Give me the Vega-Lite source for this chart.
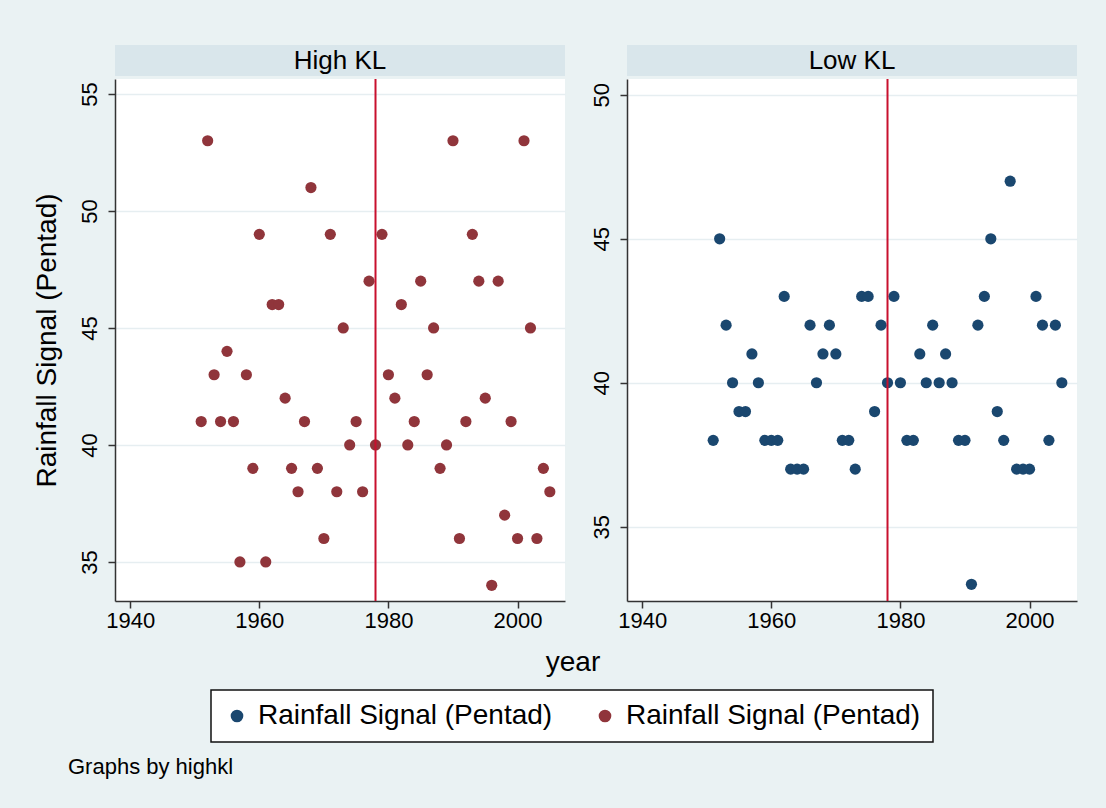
{
  "$schema": "https://vega.github.io/schema/vega-lite/v6.json",
  "padding": {"left": 33, "top": 45, "right": 40, "bottom": 40},
  "datasets": {
    "pts": [
      {"year":1951,"rain":41,"panel":"High KL"},{"year":1952,"rain":53,"panel":"High KL"},{"year":1953,"rain":43,"panel":"High KL"},{"year":1954,"rain":41,"panel":"High KL"},{"year":1955,"rain":44,"panel":"High KL"},{"year":1956,"rain":41,"panel":"High KL"},{"year":1957,"rain":35,"panel":"High KL"},{"year":1958,"rain":43,"panel":"High KL"},{"year":1959,"rain":39,"panel":"High KL"},{"year":1960,"rain":49,"panel":"High KL"},
      {"year":1961,"rain":35,"panel":"High KL"},{"year":1962,"rain":46,"panel":"High KL"},{"year":1963,"rain":46,"panel":"High KL"},{"year":1964,"rain":42,"panel":"High KL"},{"year":1965,"rain":39,"panel":"High KL"},{"year":1966,"rain":38,"panel":"High KL"},{"year":1967,"rain":41,"panel":"High KL"},{"year":1968,"rain":51,"panel":"High KL"},{"year":1969,"rain":39,"panel":"High KL"},{"year":1970,"rain":36,"panel":"High KL"},
      {"year":1971,"rain":49,"panel":"High KL"},{"year":1972,"rain":38,"panel":"High KL"},{"year":1973,"rain":45,"panel":"High KL"},{"year":1974,"rain":40,"panel":"High KL"},{"year":1975,"rain":41,"panel":"High KL"},{"year":1976,"rain":38,"panel":"High KL"},{"year":1977,"rain":47,"panel":"High KL"},{"year":1978,"rain":40,"panel":"High KL"},{"year":1979,"rain":49,"panel":"High KL"},{"year":1980,"rain":43,"panel":"High KL"},
      {"year":1981,"rain":42,"panel":"High KL"},{"year":1982,"rain":46,"panel":"High KL"},{"year":1983,"rain":40,"panel":"High KL"},{"year":1984,"rain":41,"panel":"High KL"},{"year":1985,"rain":47,"panel":"High KL"},{"year":1986,"rain":43,"panel":"High KL"},{"year":1987,"rain":45,"panel":"High KL"},{"year":1988,"rain":39,"panel":"High KL"},{"year":1989,"rain":40,"panel":"High KL"},{"year":1990,"rain":53,"panel":"High KL"},
      {"year":1991,"rain":36,"panel":"High KL"},{"year":1992,"rain":41,"panel":"High KL"},{"year":1993,"rain":49,"panel":"High KL"},{"year":1994,"rain":47,"panel":"High KL"},{"year":1995,"rain":42,"panel":"High KL"},{"year":1996,"rain":34,"panel":"High KL"},{"year":1997,"rain":47,"panel":"High KL"},{"year":1998,"rain":37,"panel":"High KL"},{"year":1999,"rain":41,"panel":"High KL"},{"year":2000,"rain":36,"panel":"High KL"},
      {"year":2001,"rain":53,"panel":"High KL"},{"year":2002,"rain":45,"panel":"High KL"},{"year":2003,"rain":36,"panel":"High KL"},{"year":2004,"rain":39,"panel":"High KL"},{"year":2005,"rain":38,"panel":"High KL"},
      {"year":1951,"rain":38,"panel":"Low KL"},{"year":1952,"rain":45,"panel":"Low KL"},{"year":1953,"rain":42,"panel":"Low KL"},{"year":1954,"rain":40,"panel":"Low KL"},{"year":1955,"rain":39,"panel":"Low KL"},{"year":1956,"rain":39,"panel":"Low KL"},{"year":1957,"rain":41,"panel":"Low KL"},{"year":1958,"rain":40,"panel":"Low KL"},{"year":1959,"rain":38,"panel":"Low KL"},{"year":1960,"rain":38,"panel":"Low KL"},
      {"year":1961,"rain":38,"panel":"Low KL"},{"year":1962,"rain":43,"panel":"Low KL"},{"year":1963,"rain":37,"panel":"Low KL"},{"year":1964,"rain":37,"panel":"Low KL"},{"year":1965,"rain":37,"panel":"Low KL"},{"year":1966,"rain":42,"panel":"Low KL"},{"year":1967,"rain":40,"panel":"Low KL"},{"year":1968,"rain":41,"panel":"Low KL"},{"year":1969,"rain":42,"panel":"Low KL"},{"year":1970,"rain":41,"panel":"Low KL"},
      {"year":1971,"rain":38,"panel":"Low KL"},{"year":1972,"rain":38,"panel":"Low KL"},{"year":1973,"rain":37,"panel":"Low KL"},{"year":1974,"rain":43,"panel":"Low KL"},{"year":1975,"rain":43,"panel":"Low KL"},{"year":1976,"rain":39,"panel":"Low KL"},{"year":1977,"rain":42,"panel":"Low KL"},{"year":1978,"rain":40,"panel":"Low KL"},{"year":1979,"rain":43,"panel":"Low KL"},{"year":1980,"rain":40,"panel":"Low KL"},
      {"year":1981,"rain":38,"panel":"Low KL"},{"year":1982,"rain":38,"panel":"Low KL"},{"year":1983,"rain":41,"panel":"Low KL"},{"year":1984,"rain":40,"panel":"Low KL"},{"year":1985,"rain":42,"panel":"Low KL"},{"year":1986,"rain":40,"panel":"Low KL"},{"year":1987,"rain":41,"panel":"Low KL"},{"year":1988,"rain":40,"panel":"Low KL"},{"year":1989,"rain":38,"panel":"Low KL"},{"year":1990,"rain":38,"panel":"Low KL"},
      {"year":1991,"rain":33,"panel":"Low KL"},{"year":1992,"rain":42,"panel":"Low KL"},{"year":1993,"rain":43,"panel":"Low KL"},{"year":1994,"rain":45,"panel":"Low KL"},{"year":1995,"rain":39,"panel":"Low KL"},{"year":1996,"rain":38,"panel":"Low KL"},{"year":1997,"rain":47,"panel":"Low KL"},{"year":1998,"rain":37,"panel":"Low KL"},{"year":1999,"rain":37,"panel":"Low KL"},{"year":2000,"rain":37,"panel":"Low KL"},
      {"year":2001,"rain":43,"panel":"Low KL"},{"year":2002,"rain":42,"panel":"Low KL"},{"year":2003,"rain":38,"panel":"Low KL"},{"year":2004,"rain":42,"panel":"Low KL"},{"year":2005,"rain":40,"panel":"Low KL"}
    ],
    "vline": [{"year": 1978}]
  },
  "title": {"text": "Graphs by highkl", "orient": "bottom", "anchor": "start", "fontSize": 22, "fontWeight": "normal", "color": "#000", "offset": 14, "dx": 35},
  "vconcat": [
    {
      "concat": [
        {
          "width": 450, "height": 31,
          "view": {"fill": "#D9E6EB", "stroke": null},
          "data": {"values": [{"label": "High KL"}]},
          "mark": {"type": "text", "fontSize": 26, "color": "#000", "baseline": "middle", "align": "center"},
          "encoding": {"text": {"field": "label"}}
        },
        {
          "width": 450, "height": 31,
          "view": {"fill": "#D9E6EB", "stroke": null},
          "data": {"values": [{"label": "Low KL"}]},
          "mark": {"type": "text", "fontSize": 26, "color": "#000", "baseline": "middle", "align": "center"},
          "encoding": {"text": {"field": "label"}}
        },
        {
          "width": 450, "height": 522,
          "layer": [
            {
              "data": {"name": "pts"},
              "transform": [{"filter": "datum.panel === 'High KL'"}],
              "mark": {"type": "point", "filled": true, "opacity": 1, "size": 125},
              "encoding": {
                "x": {"field": "year", "type": "quantitative", "scale": {"domain": [1937.65, 2007.35], "nice": false, "zero": false},
                      "axis": {"values": [1940, 1960, 1980, 2000], "format": "d", "title": null, "grid": false, "labelPadding": 2}},
                "y": {"field": "rain", "type": "quantitative", "scale": {"domain": [33.33, 55.64], "nice": false, "zero": false},
                      "axis": {"values": [35, 40, 45, 50, 55], "title": "Rainfall Signal (Pentad)", "labelAngle": -90, "labelAlign": "center", "labelBaseline": "alphabetic", "labelPadding": 12, "titlePadding": 17}},
                "color": {"field": "panel", "type": "nominal", "scale": {"domain": ["Low KL", "High KL"], "range": ["#1A476F", "#90353B"]},
                          "legend": {"title": null, "labelExpr": "'Rainfall Signal (Pentad)'"}}
              }
            },
            {
              "data": {"name": "vline"},
              "mark": {"type": "rule", "color": "#C8102E", "strokeWidth": 2},
              "encoding": {"x": {"field": "year", "type": "quantitative"}}
            }
          ]
        },
        {
          "width": 450, "height": 522,
          "layer": [
            {
              "data": {"name": "pts"},
              "transform": [{"filter": "datum.panel === 'Low KL'"}],
              "mark": {"type": "point", "filled": true, "opacity": 1, "size": 125},
              "encoding": {
                "x": {"field": "year", "type": "quantitative", "scale": {"domain": [1937.65, 2007.35], "nice": false, "zero": false},
                      "axis": {"values": [1940, 1960, 1980, 2000], "format": "d", "title": null, "grid": false, "labelPadding": 2}},
                "y": {"field": "rain", "type": "quantitative", "scale": {"domain": [32.42, 50.55], "nice": false, "zero": false},
                      "axis": {"values": [35, 40, 45, 50], "title": null, "labelAngle": -90, "labelAlign": "center", "labelBaseline": "alphabetic", "labelPadding": 12}},
                "color": {"field": "panel", "type": "nominal", "scale": {"domain": ["Low KL", "High KL"], "range": ["#1A476F", "#90353B"]},
                          "legend": {"title": null, "labelExpr": "'Rainfall Signal (Pentad)'"}}
              }
            },
            {
              "data": {"name": "vline"},
              "mark": {"type": "rule", "color": "#C8102E", "strokeWidth": 2},
              "encoding": {"x": {"field": "year", "type": "quantitative"}}
            }
          ]
        }
      ],
      "columns": 2,
      "spacing": {"row": 3, "column": 62},
      "bounds": "flush",
      "title": {"text": "year", "orient": "bottom", "anchor": "middle", "fontSize": 28, "fontWeight": "normal", "color": "#000", "offset": 18, "dx": 18},
      "resolve": {"scale": {"x": "independent", "y": "independent"}}
    }
  ],
  "resolve": {"scale": {"x": "independent", "y": "independent"}},
  "config": {
    "font": "Liberation Sans",
    "background": "#EAF2F3",
    "view": {"stroke": null, "fill": "white"},
    "axis": {"domainColor": "#333", "domainWidth": 1.5, "tickColor": "#333", "tickSize": 7, "tickWidth": 1.5, "labelFontSize": 22, "labelColor": "#000", "titleColor": "#000", "titleFontWeight": "normal", "titleFontSize": 28, "gridColor": "#E6EEF1", "gridWidth": 1.5},
    "legend": {"orient": "none", "legendX": 96, "legendY": 645, "direction": "horizontal", "fillColor": "white", "strokeColor": "#111", "strokeWidth": 1.5, "padding": 12, "labelFontSize": 28, "labelColor": "#000", "labelLimit": 0, "labelOffset": 7, "columnPadding": 38, "symbolType": "circle", "symbolSize": 160, "symbolOpacity": 1, "symbolStrokeWidth": 0}
  }
}
